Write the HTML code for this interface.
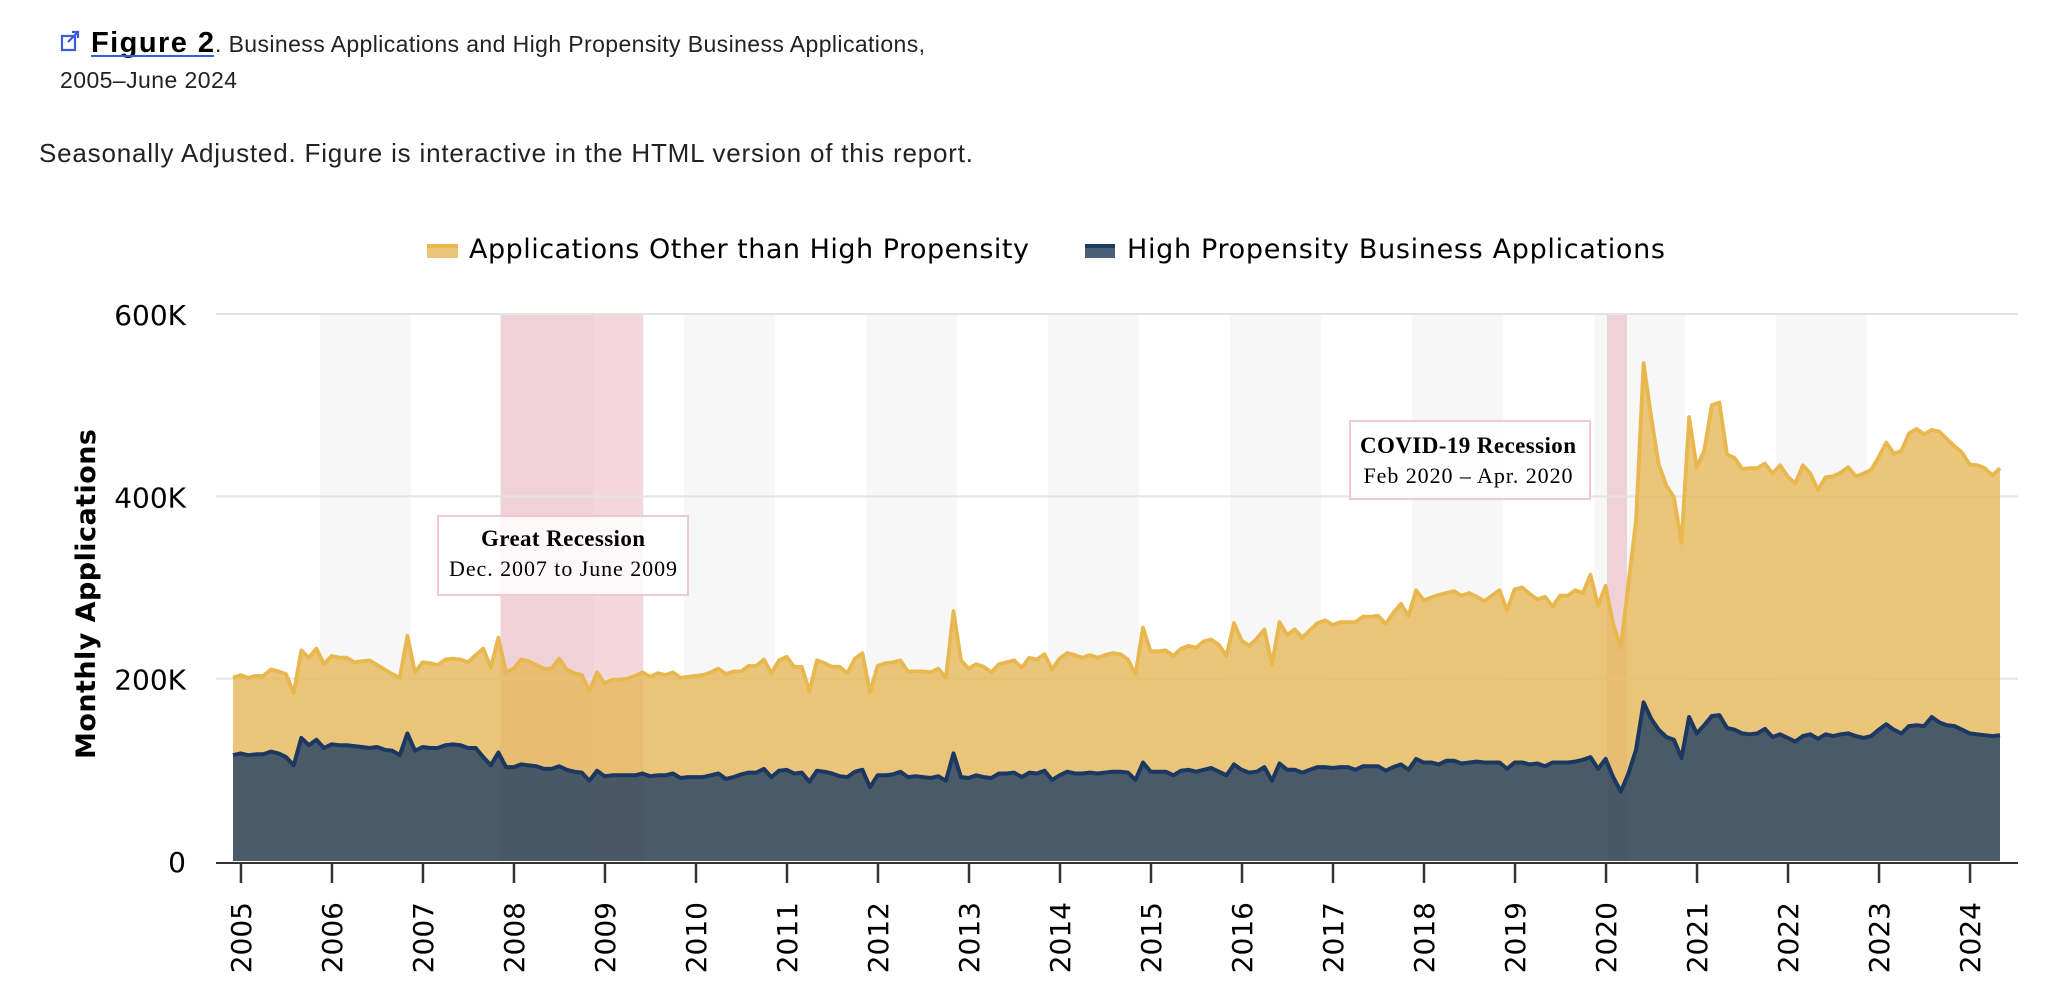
<!DOCTYPE html>
<html><head><meta charset="utf-8"><style>
html,body{margin:0;padding:0;background:#fff;}
svg{display:block;}
</style></head><body>
<svg id="chart" width="2068" height="1002" viewBox="0 0 2068 1002" xmlns="http://www.w3.org/2000/svg">
<g>
  <g fill="none" stroke="#3b5bdb" stroke-width="2.2">
    <rect x="62" y="36" width="13" height="14"/>
    <path d="M68 42 L78 32 M72 32 L78 32 L78 38"/>
  </g>
  <text x="91" y="52" font-family="Liberation Sans, sans-serif" font-weight="bold" font-size="29" fill="#000" textLength="123">Figure 2</text>
  <line x1="91" y1="56" x2="214" y2="56" stroke="#3b5bdb" stroke-width="2"/>
  <text x="215" y="52" font-family="Liberation Sans, sans-serif" font-size="23" fill="#222" textLength="710">. Business Applications and High Propensity Business Applications,</text>
  <text x="60" y="88" font-family="Liberation Sans, sans-serif" font-size="23" fill="#222" textLength="177">2005–June 2024</text>
</g>
<text x="39" y="162" font-family="Liberation Sans, sans-serif" font-size="26" fill="#222" textLength="934">Seasonally Adjusted. Figure is interactive in the HTML version of this report.</text>

<g>
  <g>
    <rect x="427" y="245" width="31" height="13" fill="#ebc67a"/>
    <rect x="427" y="244" width="31" height="4" fill="#e8b84e"/>
    <text x="469" y="258" font-family="DejaVu Sans, sans-serif" font-size="27" fill="#000" textLength="560">Applications Other than High Propensity</text>
  </g>
  <g>
    <rect x="1085" y="245" width="30" height="13" fill="#4a5f7a"/>
    <rect x="1085" y="244" width="30" height="4" fill="#1d3a63"/>
    <text x="1127" y="258" font-family="DejaVu Sans, sans-serif" font-size="27" fill="#000" textLength="538">High Propensity Business Applications</text>
  </g>
</g>

<text transform="translate(95,594) rotate(-90)" text-anchor="middle" font-family="DejaVu Sans, sans-serif" font-weight="bold" font-size="27" fill="#000" textLength="330">Monthly Applications</text>

<g id="bg"></g>
<g id="grid"></g>
<g id="areas"></g>
<g id="axes"></g>

<g>
  <rect x="438" y="516" width="250" height="79" fill="rgba(255,255,255,0.82)" stroke="#f0c8d0" stroke-width="2"/>
  <text x="563" y="546" text-anchor="middle" font-family="Liberation Serif, serif" font-weight="bold" font-size="23" fill="#000" textLength="164">Great Recession</text>
  <text x="563" y="576" text-anchor="middle" font-family="Liberation Serif, serif" font-size="22" fill="#000" textLength="228">Dec. 2007 to June 2009</text>
</g>
<g>
  <rect x="1350" y="421" width="240" height="78" fill="rgba(255,255,255,0.82)" stroke="#f0c8d0" stroke-width="2"/>
  <text x="1468" y="453" text-anchor="middle" font-family="Liberation Serif, serif" font-weight="bold" font-size="23" fill="#000" textLength="216">COVID-19 Recession</text>
  <text x="1468" y="483" text-anchor="middle" font-family="Liberation Serif, serif" font-size="22" fill="#000" textLength="209">Feb 2020 – Apr. 2020</text>
</g>
</svg>
<script>
// ---- data (thousands of applications, monthly Jan 2005 .. Jun 2024) ----
const totalApplications = [201,204,201,203,203,210,208,205,184,231,223,233,216,225,223,223,218,219,220,215,210,205,201,247,207,218,217,215,221,222,221,218,226,233,212,245,207,211,221,219,
215,211,211,222,210,206,204,186,207,195,199,199,200,203,207,202,206,204,207,201,202,203,204,207,211,205,208,208,214,214,221,206,220,224,213,213,186,220,217,213,
213,206,222,228,185,214,217,218,220,208,208,208,207,211,201,274,220,211,216,213,207,216,218,220,212,223,221,227,210,222,228,226,223,226,223,226,228,227,221,205,
256,230,230,231,225,233,236,234,241,243,237,225,261,242,236,244,254,216,262,248,254,245,253,261,264,259,262,262,262,268,268,269,260,272,282,269,297,286,289,292,
294,296,291,294,290,285,291,297,275,298,300,293,287,290,279,291,291,297,294,314,280,302,260,234,304,373,546,487,435,412,399,349,487,432,450,500,503,446,442,430,
431,431,436,425,434,422,414,434,425,407,421,422,426,432,422,425,429,443,459,447,450,469,474,468,473,471,463,455,448,435,434,431,423,431];
const highPropensity = [116,118,116,117,117,120,118,114,105,135,127,133,124,128,127,127,126,125,124,125,122,121,116,140,121,125,124,124,127,128,127,124,124,114,105,119,103,103,106,105,
104,101,101,104,100,98,97,88,99,93,94,94,94,94,96,93,94,94,96,91,92,92,92,94,96,90,92,95,97,97,101,92,99,100,96,97,87,99,98,96,
93,92,98,100,81,94,94,95,98,92,93,92,91,93,88,118,92,91,94,92,91,96,96,97,92,97,96,99,89,94,98,96,96,97,96,97,98,98,97,89,
108,98,98,98,94,99,100,98,100,102,98,94,106,100,97,98,103,88,107,100,100,97,100,103,103,102,103,103,100,104,104,104,99,103,106,100,112,108,108,106,
110,110,107,108,109,108,108,108,101,108,108,106,107,104,108,108,108,109,111,114,101,112,92,76,96,122,174,156,144,136,133,113,158,140,149,159,160,146,144,140,
139,140,145,136,139,135,131,137,139,134,139,137,139,140,137,135,137,144,150,144,140,148,149,148,158,152,149,148,144,140,139,138,137,138];
const yearTicks = [2005,2006,2007,2008,2009,2010,2011,2012,2013,2014,2015,2016,2017,2018,2019,2020,2021,2022,2023,2024];
const yTickValues = [0,200,400,600];
const yTickLabels = ["0","200K","400K","600K"];
const stripeYears = [2006,2008,2010,2012,2014,2016,2018,2020,2022];
const recessionStarts = [2007.85,2020.01];
const recessionEnds = [2009.42,2020.23];

(function(){
const NS = "http://www.w3.org/2000/svg";
const X0 = 233, X1 = 2000, N = totalApplications.length;
function xIdx(i){ return X0 + i*(X1-X0)/233; }
function xYear(y){ return xIdx((y-2005)*12 + 1.05); }
function yVal(v){ return 861 - v*547/600; }
function mk(tag, attrs, parent){ const e=document.createElementNS(NS,tag); for(const k in attrs) e.setAttribute(k,attrs[k]); parent.appendChild(e); return e; }

const bg=document.getElementById('bg'), grid=document.getElementById('grid'), areas=document.getElementById('areas'), axes=document.getElementById('axes');
const plotTop=yVal(600), plotBase=yVal(0);
stripeYears.forEach(y=>{
  const a=xYear(y-0.13), b=xYear(y+0.87);
  const r=mk('rect',{x:a,y:plotTop,width:b-a,height:plotBase-plotTop,fill:'#f7f7f7'},bg);
  
  
});
recessionStarts.forEach((s,k)=>{
  const a=xYear(s), b=xYear(recessionEnds[k]);
  const r=mk('rect',{x:a,y:plotTop,width:b-a,height:plotBase-plotTop,fill:'rgba(222,140,155,0.35)'},bg);
  
  
});
yTickValues.forEach((v,k)=>{
  if(v>0){
    const l=mk('line',{x1:216,x2:2018,y1:yVal(v),y2:yVal(v),stroke:'#e4e4e4','stroke-width':2},grid);
    
    
  }
  const t=mk('text',{x:186,y:yVal(v)+11,'text-anchor':'end','font-family':'DejaVu Sans, sans-serif','font-size':28,fill:'#000'},axes);
  t.textContent=yTickLabels[k];
  
  
});
let hpPts=[], totPts=[];
for(let i=0;i<N;i++){ hpPts.push([xIdx(i),yVal(highPropensity[i])]); totPts.push([xIdx(i),yVal(totalApplications[i])]); }
const ptsStr=p=>p.map(q=>q[0].toFixed(1)+','+q[1].toFixed(1)).join(' L');
const other=mk('path',{d:'M'+ptsStr(totPts)+' L'+ptsStr(hpPts.slice().reverse())+' Z',fill:'#e6b859','fill-opacity':0.8},areas);


const hp=mk('path',{d:'M'+ptsStr(hpPts)+' L'+xIdx(N-1)+','+plotBase+' L'+xIdx(0)+','+plotBase+' Z',fill:'#3f505e','fill-opacity':0.94},areas);


const l1=mk('path',{d:'M'+ptsStr(totPts),fill:'none',stroke:'#e8b84e','stroke-width':3.8,'stroke-linejoin':'round'},areas);


const l2=mk('path',{d:'M'+ptsStr(hpPts),fill:'none',stroke:'#1a3862','stroke-width':4,'stroke-linejoin':'round'},areas);


const ax=mk('line',{x1:216,x2:2018,y1:863,y2:863,stroke:'#333','stroke-width':2},axes);


yearTicks.forEach(y=>{
  const x=xYear(y);
  const tk=mk('line',{x1:x,x2:x,y1:863,y2:883,stroke:'#333','stroke-width':2.5},axes);
  
  
  const t=mk('text',{transform:'translate('+(x+10)+',902) rotate(-90)','text-anchor':'end','font-family':'DejaVu Sans, sans-serif','font-size':28,fill:'#000'},axes);
  t.textContent=String(y);
  
  
});
})();
</script>
</body></html>
